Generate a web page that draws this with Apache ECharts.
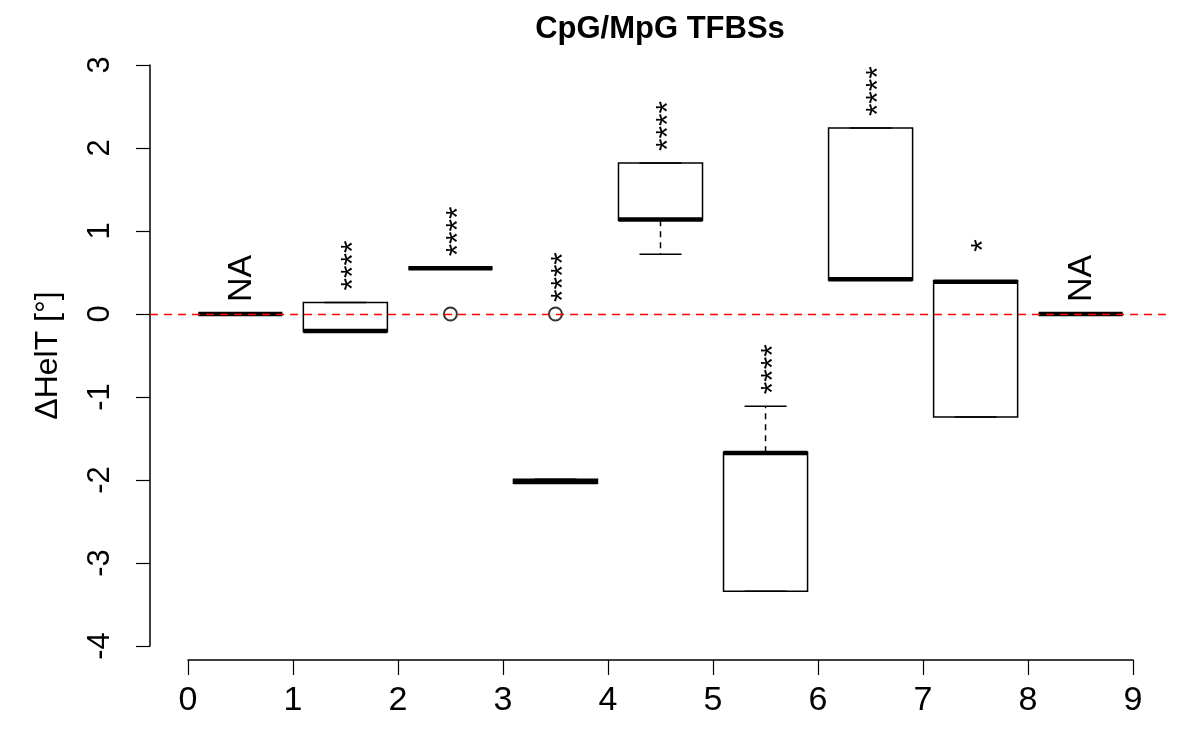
<!DOCTYPE html>
<html>
<head>
<meta charset="utf-8">
<script src="https://cdn.jsdelivr.net/npm/echarts@6/dist/echarts.min.js"></script>
<style>html,body{margin:0;padding:0;background:#fff}#c{width:1200px;height:750px}</style>
</head>
<body>
<div id="c"></div>
<script>
// ---- data ----
const positions    = [0.5, 1.5, 2.5, 3.5, 4.5, 5.5, 6.5, 7.5, 8.5];
const lowerWhisker = [0, -0.21, 0.55, -2.04, 0.72, -3.34, 0.41, -1.24, 0];
const q1           = [0, -0.21, 0.55, -2.04, 1.13, -3.34, 0.41, -1.24, 0];
const median       = [0, -0.205, 0.55, -2.025, 1.14, -1.675, 0.42, 0.39, 0];
const q3           = [0, 0.14, 0.55, -1.99, 1.82, -1.665, 2.24, 0.40, 0];
const upperWhisker = [0, 0.14, 0.55, -1.99, 1.82, -1.11, 2.24, 0.40, 0];
const outlierX     = [2.5, 3.5];
const outlierY     = [0, 0];
const sigLabels    = ['NA', '****', '****', '****', '****', '****', '****', '*', 'NA'];
const xTickMin = 0, xTickMax = 9, xTickStep = 1;
const yMin = -4, yMax = 3, yStep = 1;
const title = 'CpG/MpG TFBSs';
const yName = '\u0394HelT [\u00b0]';

const FONT = "'Liberation Sans', Arial, Helvetica, sans-serif";
const xPad = 0.36; // R's 4% range extension of the x range

const boxData = positions.map((p, i) => [p, lowerWhisker[i], q1[i], median[i], q3[i], upperWhisker[i]]);
const outlierData = outlierX.map((x, i) => [x, outlierY[i]]);
const labelData = positions.map((p, i) => {
  let top = upperWhisker[i];
  outlierX.forEach((ox, j) => { if (ox === p) top = Math.max(top, outlierY[j]); });
  return [p, top];
});

const chart = echarts.init(document.getElementById('c'), null, {renderer: 'canvas'});
const HALF = 0.4, STAPLE = 0.2;

chart.setOption({
  animation: false,
  backgroundColor: '#fff',
  graphic: [{
    type: 'text', x: 660, y: 14,
    style: {text: title, font: 'bold 31px ' + FONT, fill: '#000', align: 'center', verticalAlign: 'top'}
  }],
  grid: [
    {left: 150, right: 29, top: 65, bottom: 104},
    {left: 188, right: 67, top: 65, bottom: 104}
  ],
  xAxis: [
    {gridIndex: 0, type: 'value', min: xTickMin - xPad, max: xTickMax + xPad, show: false},
    {gridIndex: 1, type: 'value', min: xTickMin, max: xTickMax, interval: xTickStep, offset: 14,
     axisLine: {show: true, onZero: false, lineStyle: {color: '#000', width: 1.5}},
     axisTick: {show: true, length: 15, lineStyle: {color: '#000', width: 1.2}},
     axisLabel: {fontSize: 34, fontFamily: FONT, color: '#000', margin: 24},
     splitLine: {show: false}}
  ],
  yAxis: [
    {gridIndex: 0, type: 'value', min: yMin, max: yMax, interval: yStep,
     name: yName, nameLocation: 'middle', nameGap: 86, nameRotate: 90,
     nameTextStyle: {fontSize: 32, fontFamily: FONT, color: '#000'},
     axisLine: {show: true, onZero: false, lineStyle: {color: '#000', width: 1.5}},
     axisTick: {show: true, length: 14, lineStyle: {color: '#000', width: 1.2}},
     axisLabel: {fontSize: 31, fontFamily: FONT, color: '#000', rotate: 90, margin: 34},
     splitLine: {show: false}},
    {gridIndex: 1, type: 'value', min: yMin, max: yMax, show: false}
  ],
  series: [
    {
      type: 'custom', xAxisIndex: 0, yAxisIndex: 0, data: boxData, z: 2, silent: true,
      renderItem: function (params, api) {
        const x = api.value(0), lw = api.value(1), a = api.value(2), m = api.value(3), b = api.value(4), uw = api.value(5);
        const tl = api.coord([x - HALF, b]), br = api.coord([x + HALF, a]);
        const ls = {stroke: '#000', lineWidth: 1.5, fill: 'none'};
        const ch = [];
        const dash = {stroke: '#000', lineWidth: 1.5, lineDash: [6, 5]};
        const up0 = api.coord([x, b]), up1 = api.coord([x, uw]);
        const lo0 = api.coord([x, a]), lo1 = api.coord([x, lw]);
        if (uw > b) ch.push({type: 'line', shape: {x1: up0[0], y1: up0[1], x2: up1[0], y2: up1[1]}, style: dash});
        if (lw < a) ch.push({type: 'line', shape: {x1: lo0[0], y1: lo0[1], x2: lo1[0], y2: lo1[1]}, style: dash});
        const su0 = api.coord([x - STAPLE, uw]), su1 = api.coord([x + STAPLE, uw]);
        const sl0 = api.coord([x - STAPLE, lw]), sl1 = api.coord([x + STAPLE, lw]);
        ch.push({type: 'line', shape: {x1: su0[0], y1: su0[1], x2: su1[0], y2: su1[1]}, style: ls});
        ch.push({type: 'line', shape: {x1: sl0[0], y1: sl0[1], x2: sl1[0], y2: sl1[1]}, style: ls});
        ch.push({type: 'rect', shape: {x: tl[0], y: tl[1], width: br[0] - tl[0], height: br[1] - tl[1]}, style: ls});
        const m0 = api.coord([x - HALF, m]), m1 = api.coord([x + HALF, m]);
        ch.push({type: 'line', shape: {x1: m0[0], y1: m0[1], x2: m1[0], y2: m1[1]}, style: {stroke: '#000', lineWidth: 4.5}});
        return {type: 'group', children: ch};
      }
    },
    {
      type: 'scatter', xAxisIndex: 0, yAxisIndex: 0, data: outlierData, z: 3, silent: true,
      symbol: 'circle', symbolSize: 13,
      itemStyle: {color: 'rgba(0,0,0,0)', borderColor: '#000', borderWidth: 2}
    },
    {
      type: 'custom', xAxisIndex: 0, yAxisIndex: 0, data: labelData, z: 4, silent: true,
      renderItem: function (params, api) {
        const txt = sigLabels[params.dataIndex];
        const pt = api.coord([api.value(0), api.value(1)]);
        const isNA = txt === 'NA';
        const fs = isNA ? 34 : 32;
        const gap = txt === '*' ? 29 : 12;
        return {
          type: 'text', x: pt[0] + (isNA ? 1 : 0.27 * fs), y: pt[1] - gap, rotation: Math.PI / 2,
          style: {text: txt, font: fs + 'px ' + FONT, fill: '#000', align: 'left', verticalAlign: 'middle'}
        };
      }
    },
    {
      type: 'line', xAxisIndex: 0, yAxisIndex: 0, data: [], z: 10, silent: true,
      markLine: {
        silent: true, symbol: 'none', label: {show: false},
        lineStyle: {color: '#ff0000', type: [8, 6], width: 1.3},
        data: [{yAxis: 0}]
      }
    }
  ]
});
</script>
</body>
</html>
